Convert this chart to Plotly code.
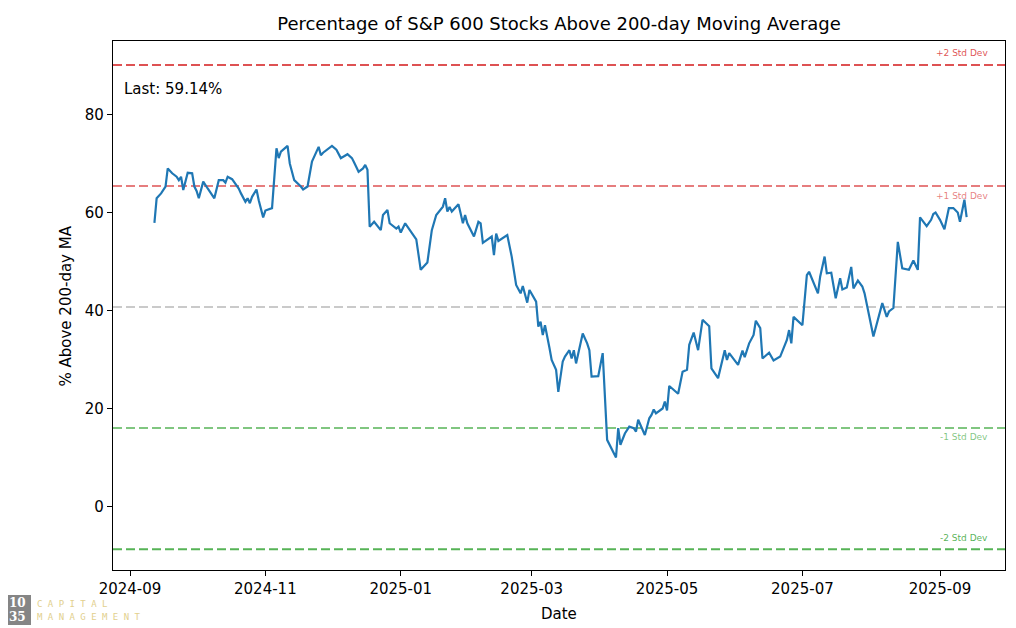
import plotly.graph_objects as go

# ---------------- data ----------------
dates = [
    "2024-09-12", "2024-09-13", "2024-09-15", "2024-09-17", "2024-09-18", "2024-09-20", "2024-09-22",
    "2024-09-23", "2024-09-24", "2024-09-25", "2024-09-27", "2024-09-29", "2024-09-30", "2024-10-01",
    "2024-10-02", "2024-10-04", "2024-10-06", "2024-10-08", "2024-10-09", "2024-10-11", "2024-10-13",
    "2024-10-14", "2024-10-15", "2024-10-17", "2024-10-20", "2024-10-21", "2024-10-23", "2024-10-24",
    "2024-10-25", "2024-10-26", "2024-10-28", "2024-10-29", "2024-10-31", "2024-11-01", "2024-11-04",
    "2024-11-06", "2024-11-07", "2024-11-08", "2024-11-11", "2024-11-12", "2024-11-14", "2024-11-17",
    "2024-11-18", "2024-11-20", "2024-11-22", "2024-11-25", "2024-11-26", "2024-11-27", "2024-12-01",
    "2024-12-03", "2024-12-05", "2024-12-08", "2024-12-10", "2024-12-11", "2024-12-13", "2024-12-15",
    "2024-12-16", "2024-12-17", "2024-12-18", "2024-12-20", "2024-12-22", "2024-12-23", "2024-12-24",
    "2024-12-26", "2024-12-27", "2024-12-29", "2024-12-30", "2024-12-31", "2025-01-01", "2025-01-03",
    "2025-01-04", "2025-01-07", "2025-01-08", "2025-01-10", "2025-01-13", "2025-01-15", "2025-01-17",
    "2025-01-20", "2025-01-21", "2025-01-22", "2025-01-23", "2025-01-24", "2025-01-27", "2025-01-28",
    "2025-01-29", "2025-01-30", "2025-01-31", "2025-02-03", "2025-02-05", "2025-02-06", "2025-02-07",
    "2025-02-11", "2025-02-12", "2025-02-13", "2025-02-14", "2025-02-18", "2025-02-19", "2025-02-20",
    "2025-02-22", "2025-02-24", "2025-02-25", "2025-02-27", "2025-02-28", "2025-03-03", "2025-03-04",
    "2025-03-05", "2025-03-06", "2025-03-07", "2025-03-09", "2025-03-10", "2025-03-12", "2025-03-13",
    "2025-03-15", "2025-03-16", "2025-03-18", "2025-03-19", "2025-03-20", "2025-03-21", "2025-03-24",
    "2025-03-26", "2025-03-27", "2025-03-28", "2025-03-31", "2025-04-02", "2025-04-04", "2025-04-08",
    "2025-04-09", "2025-04-10", "2025-04-12", "2025-04-14", "2025-04-16", "2025-04-17", "2025-04-18",
    "2025-04-21", "2025-04-23", "2025-04-24", "2025-04-25", "2025-04-26", "2025-04-29", "2025-04-30",
    "2025-05-01", "2025-05-02", "2025-05-06", "2025-05-08", "2025-05-10", "2025-05-11", "2025-05-13",
    "2025-05-15", "2025-05-17", "2025-05-20", "2025-05-21", "2025-05-24", "2025-05-27", "2025-05-28",
    "2025-05-29", "2025-05-31", "2025-06-02", "2025-06-04", "2025-06-05", "2025-06-07", "2025-06-09",
    "2025-06-10", "2025-06-12", "2025-06-13", "2025-06-16", "2025-06-18", "2025-06-21", "2025-06-24",
    "2025-06-25", "2025-06-26", "2025-06-27", "2025-07-01", "2025-07-03", "2025-07-04", "2025-07-08",
    "2025-07-09", "2025-07-11", "2025-07-12", "2025-07-14", "2025-07-16", "2025-07-18", "2025-07-19",
    "2025-07-21", "2025-07-23", "2025-07-24", "2025-07-26", "2025-07-28", "2025-07-29", "2025-08-02",
    "2025-08-06", "2025-08-08", "2025-08-09", "2025-08-11", "2025-08-13", "2025-08-15", "2025-08-18",
    "2025-08-20", "2025-08-22", "2025-08-23", "2025-08-26", "2025-08-28", "2025-08-29", "2025-08-30",
    "2025-09-01", "2025-09-03", "2025-09-05", "2025-09-07", "2025-09-09", "2025-09-10", "2025-09-12",
    "2025-09-13",
]
pct_above = [
    58.0, 63.0, 64.0, 65.4, 69.1, 68.1, 67.4,
    66.7, 67.4, 64.7, 68.2, 68.1, 65.4, 64.5,
    63.0, 66.4, 65.0, 63.7, 63.0, 66.7, 66.7,
    66.2, 67.4, 66.9, 65.0, 64.0, 62.3, 63.0,
    62.0, 63.3, 64.8, 62.6, 59.1, 60.5, 61.0,
    73.2, 71.2, 72.5, 73.7, 70.1, 66.7, 65.4,
    64.8, 65.4, 70.5, 73.5, 71.8, 72.3, 73.7,
    72.9, 71.2, 72.0, 71.2, 70.3, 68.4, 69.1,
    69.8, 68.8, 57.2, 58.2, 57.2, 56.5, 59.6,
    60.6, 57.9, 57.2, 56.8, 57.2, 56.0, 57.9,
    57.2, 55.3, 54.6, 48.4, 49.9, 56.5, 59.6,
    61.3, 63.0, 60.3, 61.2, 60.3, 61.8, 59.9,
    57.9, 59.6, 57.9, 55.2, 58.2, 57.9, 53.9,
    55.2, 51.4, 55.8, 54.3, 55.5, 53.5, 51.1,
    45.3, 43.6, 45.1, 41.7, 44.3, 41.9, 36.8,
    37.8, 35.1, 37.1, 32.5, 30.0, 28.0, 23.5,
    29.7, 30.7, 32.0, 30.3, 32.0, 29.3, 35.4,
    33.4, 32.0, 26.6, 26.7, 31.4, 13.7, 10.1,
    16.1, 12.7, 15.0, 16.4, 16.1, 15.4, 17.8,
    14.7, 18.1, 18.8, 19.9, 19.1, 20.1, 21.5,
    19.7, 24.7, 23.1, 27.6, 28.0, 33.1, 35.6,
    32.0, 38.2, 36.9, 28.3, 26.3, 32.0, 30.0,
    31.4, 30.1, 29.0, 31.9, 30.6, 33.4, 35.1,
    38.0, 36.5, 30.3, 31.5, 29.9, 30.7, 34.1,
    36.1, 33.4, 38.8, 37.1, 47.3, 48.0, 43.6,
    47.0, 51.1, 47.7, 47.8, 42.6, 46.7, 44.4,
    44.8, 49.0, 44.6, 46.2, 45.0, 43.6, 34.8,
    41.6, 38.8, 39.9, 40.6, 54.1, 48.7, 48.4,
    50.3, 48.4, 59.1, 57.3, 58.6, 59.8, 60.1,
    58.6, 56.7, 61.0, 61.0, 60.1, 58.2, 62.7,
    59.14,
]

band_labels = ["+2 Std Dev", "+1 Std Dev", "Mean", "-1 Std Dev", "-2 Std Dev"]
band_levels = [90.2, 65.5, 40.8, 16.1, -8.6]
band_colors = ["rgba(214,39,40,0.8)", "rgba(214,39,40,0.6)", "rgba(150,150,150,0.5)",
               "rgba(44,160,44,0.6)", "rgba(44,160,44,0.8)"]
band_label_y = [92.7, 63.5, None, 14.3, -6.3]

title_text = "Percentage of S&P 600 Stocks Above 200-day Moving Average"
x_title = "Date"
y_title = "% Above 200-day MA"
last_text = "Last: 59.14%"
x_ticks = ["2024-09-01", "2024-11-01", "2025-01-01", "2025-03-01", "2025-05-01", "2025-07-01", "2025-09-01"]
x_ticklabels = ["2024-09", "2024-11", "2025-01", "2025-03", "2025-05", "2025-07", "2025-09"]
y_ticks = [0, 20, 40, 60, 80]

FONT = "DejaVu Sans"

fig = go.Figure()

for lvl, col in zip(band_levels, band_colors):
    fig.add_hline(y=lvl, line=dict(color=col, width=2, dash="9px,4px"), layer="below")

fig.add_trace(go.Scatter(
    x=dates, y=pct_above, mode="lines",
    line=dict(color="#1f77b4", width=2.2),
    showlegend=False, hoverinfo="x+y",
))

for lab, ly, col in zip(band_labels, band_label_y, band_colors):
    if ly is None:
        continue
    fig.add_annotation(x=0.983, xref="paper", y=ly, yref="y", text=lab, showarrow=False,
                       xanchor="right", yanchor="middle",
                       font=dict(family=FONT, size=9, color=col))

fig.add_annotation(x=0.01, xref="paper", y=85.3, yref="y", text=last_text, showarrow=False,
                   xanchor="left", yanchor="middle", font=dict(family=FONT, size=15, color="black"))

# axis titles (fixed positions)
fig.add_annotation(x=0.5, xref="paper", y=-0.0832, yref="paper", text=x_title, showarrow=False,
                   xanchor="center", yanchor="middle", font=dict(family=FONT, size=15, color="black"))
fig.add_annotation(x=-0.0527, xref="paper", y=0.5, yref="paper", text=y_title, showarrow=False,
                   textangle=-90, xanchor="center", yanchor="middle",
                   font=dict(family=FONT, size=15, color="black"))

# logo
fig.add_shape(type="rect", xref="paper", yref="paper",
              x0=-0.1233, x1=-0.0919, y0=-0.1040, y1=-0.0473,
              fillcolor="#858585", line=dict(width=0))
fig.add_annotation(x=-0.1076, xref="paper", y=-0.062, yref="paper", text="<b>10</b>", showarrow=False,
                   xanchor="center", yanchor="middle",
                   font=dict(family="DejaVu Serif", size=12, color="white"))
fig.add_annotation(x=-0.1076, xref="paper", y=-0.089, yref="paper", text="<b>35</b>", showarrow=False,
                   xanchor="center", yanchor="middle",
                   font=dict(family="DejaVu Serif", size=12, color="white"))
fig.add_annotation(x=-0.087, xref="paper", y=-0.064, yref="paper", text="C A P I T A L", showarrow=False,
                   xanchor="left", yanchor="middle",
                   font=dict(family="DejaVu Sans Mono", size=9, color="#e2d08e"))
fig.add_annotation(x=-0.087, xref="paper", y=-0.089, yref="paper", text="M A N A G E M E N T",
                   showarrow=False, xanchor="left", yanchor="middle",
                   font=dict(family="DejaVu Sans Mono", size=9, color="#e2d08e"))

axis_common = dict(showline=True, mirror=True, linecolor="black", linewidth=1.2,
                   ticks="outside", ticklen=5, tickwidth=1.2, tickcolor="black",
                   showgrid=False, zeroline=False, automargin=False,
                   tickfont=dict(family=FONT, size=15, color="black"))

fig.update_layout(
    width=1008, height=620,
    margin=dict(l=105, r=11, t=33, b=58),
    paper_bgcolor="white", plot_bgcolor="white",
    title=dict(text=title_text, x=0.5, xref="paper", y=1 - 16 / 620, yref="container",
               xanchor="center", yanchor="middle",
               font=dict(family=FONT, size=18, color="black")),
    xaxis=dict(type="date", range=["2024-08-24 08:00", "2025-09-30 07:00"],
               tickvals=x_ticks, ticktext=x_ticklabels, **axis_common),
    yaxis=dict(range=[-12.86, 95.1], tickvals=y_ticks, **axis_common),
    font=dict(family=FONT),
)

fig.write_html("out.html")
